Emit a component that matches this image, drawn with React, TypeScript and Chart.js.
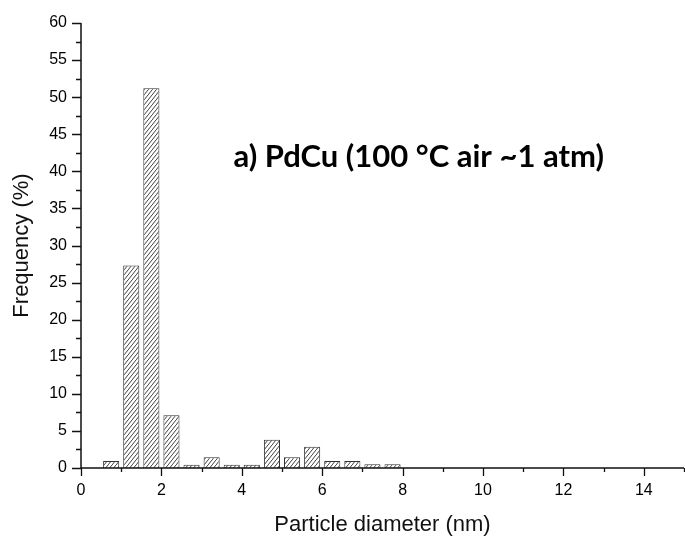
import React, { useEffect, useRef } from 'react';
import { Chart, registerables } from 'chart.js';

Chart.register(...registerables);

// Histogram bins (nm) and frequencies (%)
const binCenters = [0.75, 1.25, 1.75, 2.25, 2.75, 3.25, 3.75, 4.25, 4.75, 5.25, 5.75, 6.25, 6.75, 7.25, 7.75];
const frequencies = [0.95, 27.3, 51.2, 7.1, 0.45, 1.45, 0.45, 0.45, 3.8, 1.45, 2.85, 0.95, 0.95, 0.5, 0.5];

const xMin = 0;
const xMax = 15;
const yMin = 0;
const yMax = 60;
const xLabelStep = 2;
const xMinorStep = 1;
const yLabelStep = 5;
const yMinorStep = 2.5;

const xTitle = 'Particle diameter (nm)';
const yTitle = 'Frequency (%)';
const annotationText = 'a) PdCu (100 °C air ~1 atm)';
const annotationPos = { x: 8.4, y: 42 };

const labelFont = '"Liberation Sans", Arial, sans-serif';

function makeHatch(): CanvasPattern | string {
  const w = 4;
  const h = 5;
  const c = document.createElement('canvas');
  c.width = w;
  c.height = h;
  const g = c.getContext('2d');
  if (!g) return '#fff';
  g.fillStyle = '#ffffff';
  g.fillRect(0, 0, w, h);
  g.strokeStyle = '#2a2a2a';
  g.lineWidth = 0.9;
  g.beginPath();
  g.moveTo(0, h);
  g.lineTo(w, 0);
  g.moveTo(-w, h);
  g.lineTo(0, 0);
  g.moveTo(w, 2 * h);
  g.lineTo(2 * w, h);
  g.stroke();
  const p = g.createPattern(c, 'repeat');
  return p || '#fff';
}

const axesPlugin = {
  id: 'originAxes',
  afterDatasetsDraw(chart: any) {
    const ctx = chart.ctx as CanvasRenderingContext2D;
    const xs = chart.scales.x;
    const ys = chart.scales.y;
    const x0 = xs.getPixelForValue(xMin);
    const x1 = xs.getPixelForValue(xMax);
    const y0 = ys.getPixelForValue(yMin);
    const y1 = ys.getPixelForValue(yMax);
    ctx.save();
    ctx.strokeStyle = '#111';
    ctx.lineWidth = 1.5;
    ctx.lineCap = 'butt';
    ctx.beginPath();
    ctx.moveTo(x0, y1);
    ctx.lineTo(x0, y0);
    ctx.moveTo(x0, y0);
    ctx.lineTo(x1, y0);
    ctx.stroke();
    ctx.lineWidth = 1.3;
    ctx.beginPath();
    for (let v = xMin; v <= xMax + 1e-9; v += xMinorStep) {
      const px = Math.round(xs.getPixelForValue(v)) + 0.5;
      const len = Math.abs(v % xLabelStep) < 1e-9 ? 8 : 4;
      ctx.moveTo(px, y0);
      ctx.lineTo(px, y0 + len);
    }
    for (let v = yMin; v <= yMax + 1e-9; v += yMinorStep) {
      const py = Math.round(ys.getPixelForValue(v)) + 0.5;
      const len = Math.abs(v % yLabelStep) < 1e-9 ? 9 : 5;
      ctx.moveTo(x0, py);
      ctx.lineTo(x0 - len, py);
    }
    ctx.stroke();

    ctx.fillStyle = '#000';
    ctx.font = 'bold 31px Lato, "Open Sans", sans-serif';
    ctx.textAlign = 'center';
    ctx.textBaseline = 'middle';
    ctx.fillText(annotationText, xs.getPixelForValue(annotationPos.x), ys.getPixelForValue(annotationPos.y));
    ctx.restore();
  },
};

export default function App() {
  const canvasRef = useRef<HTMLCanvasElement | null>(null);

  useEffect(() => {
    document.body.style.margin = '0';
    const canvas = canvasRef.current;
    if (!canvas) return;
    const hatch = makeHatch();
    const chart = new Chart(canvas, {
      type: 'bar',
      data: {
        datasets: [
          {
            data: binCenters.map((x, i) => ({ x, y: frequencies[i] })),
            backgroundColor: hatch as any,
            borderColor: '#333',
            borderWidth: 1,
            barPercentage: 0.8,
            categoryPercentage: 1.0,
          },
        ],
      },
      options: {
        responsive: false,
        animation: false,
        devicePixelRatio: 1,
        layout: { padding: { top: 23, right: 1, left: 0, bottom: 0 } },
        plugins: { legend: { display: false }, tooltip: { enabled: false } },
        scales: {
          x: {
            type: 'linear',
            min: xMin,
            max: xMax,
            offset: false,
            grid: { display: false, drawTicks: true, tickLength: 13 },
            border: { display: false },
            ticks: {
              stepSize: xMinorStep,
              autoSkip: false,
              maxRotation: 0,
              padding: 0,
              color: '#000',
              font: { family: labelFont, size: 16 },
              callback: (v: any) => (Math.abs(Number(v) % xLabelStep) < 1e-9 ? String(v) : ''),
            },
            title: {
              display: true,
              text: xTitle,
              color: '#111',
              padding: { top: 0, bottom: 0 },
              font: { family: labelFont, size: 22 },
            },
            afterFit: (scale: any) => {
              scale.height = 70;
            },
          },
          y: {
            type: 'linear',
            min: yMin,
            max: yMax,
            grid: { display: false, drawTicks: true, tickLength: 14 },
            border: { display: false },
            ticks: {
              stepSize: yLabelStep,
              padding: 0,
              color: '#000',
              font: { family: labelFont, size: 16 },
            },
            title: {
              display: true,
              text: yTitle,
              color: '#111',
              padding: { top: 9, bottom: 0 },
              font: { family: labelFont, size: 22 },
            },
            afterFit: (scale: any) => {
              scale.width = 81;
            },
          },
        },
      },
      plugins: [axesPlugin],
    });
    return () => chart.destroy();
  }, []);

  return (
    <div style={{ width: 685, height: 538, background: '#fff' }}>
      <canvas ref={canvasRef} width={685} height={538} style={{ width: 685, height: 538, display: 'block' }} />
    </div>
  );
}
